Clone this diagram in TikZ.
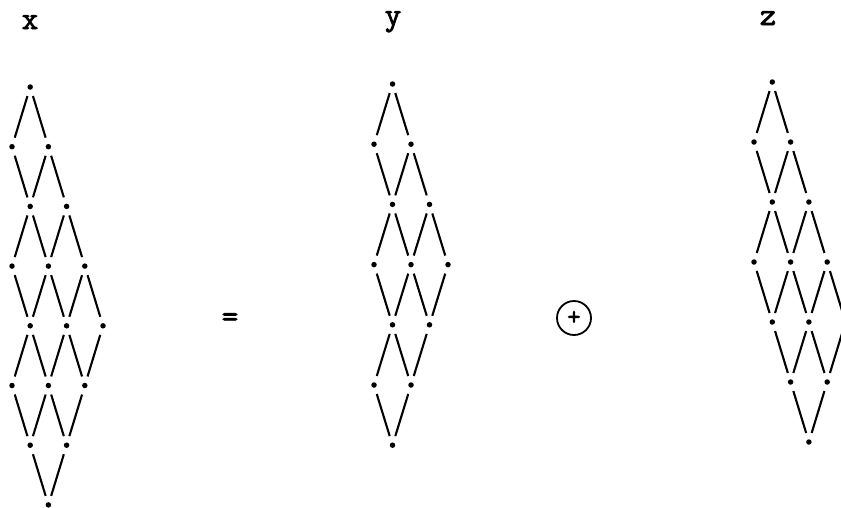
\documentclass[tikz,border=0pt]{standalone}
\usepackage{fontspec}
\newfontfamily\typefont[FakeBold=2.5]{Latin Modern Mono}

\begin{document}
\begin{tikzpicture}[x=1pt, y=-1pt,
  dot/.style={circle, fill, inner sep=0pt, minimum size=5.5pt},
  edge/.style={line width=2.1pt, shorten <=6.5pt, shorten >=6.5pt},
  lbl/.style={font=\typefont\fontsize{32}{34}\selectfont, anchor=base}
]
  \useasboundingbox (0,0) rectangle (841,507);
  \clip (0,0) rectangle (841,507);

  % names of the three lattices and the operators between them
  \node[lbl] (xname) at (30,29) {x};
  \node[lbl] (yname) at (393,25) {y};
  \node[lbl] (zname) at (768,25) {z};
  \node[lbl, anchor=center] (equals) at (230,320) {=};
  \node[draw, circle, line width=1.8pt, minimum size=34pt, inner sep=0pt,
    font=\typefont\fontsize{26}{28}\selectfont] (oplus) at (574,318) {+};

  % lattice x
  \foreach \r/\k in {1/1, 2/0, 2/2, 3/1, 3/3, 4/0, 4/2, 4/4, 5/1, 5/3, 5/5,
                     6/0, 6/2, 6/4, 7/1, 7/3, 8/2}
    \node[dot] (x\r\k) at ({12+18.2*\k}, {87+59.7*(\r-1)}) {};
  \foreach \a/\b in {x11/x20, x11/x22, x20/x31, x22/x31, x22/x33,
                     x31/x40, x31/x42, x33/x42, x33/x44,
                     x40/x51, x42/x51, x42/x53, x44/x53, x44/x55,
                     x51/x60, x51/x62, x53/x62, x53/x64, x55/x64,
                     x60/x71, x62/x71, x62/x73, x64/x73, x71/x82, x73/x82}
    \draw[edge] (\a) -- (\b);

  % lattice y
  \foreach \r/\k in {1/1, 2/0, 2/2, 3/1, 3/3, 4/0, 4/2, 4/4, 5/1, 5/3,
                     6/0, 6/2, 7/1}
    \node[dot] (y\r\k) at ({374+18.5*\k}, {84+60.2*(\r-1)}) {};
  \foreach \a/\b in {y11/y20, y11/y22, y20/y31, y22/y31, y22/y33,
                     y31/y40, y31/y42, y33/y42, y33/y44,
                     y40/y51, y42/y51, y42/y53, y44/y53,
                     y51/y60, y51/y62, y53/y62, y60/y71, y62/y71}
    \draw[edge] (\a) -- (\b);

  % lattice z
  \foreach \r/\k in {1/1, 2/0, 2/2, 3/1, 3/3, 4/0, 4/2, 4/4, 5/1, 5/3, 5/5,
                     6/2, 6/4, 7/3}
    \node[dot] (z\r\k) at ({754+18.3*\k}, {82+60*(\r-1)}) {};
  \foreach \a/\b in {z11/z20, z11/z22, z20/z31, z22/z31, z22/z33,
                     z31/z40, z31/z42, z33/z42, z33/z44,
                     z40/z51, z42/z51, z42/z53, z44/z53, z44/z55,
                     z51/z62, z53/z62, z53/z64, z55/z64, z62/z73, z64/z73}
    \draw[edge] (\a) -- (\b);
\end{tikzpicture}
\end{document}
